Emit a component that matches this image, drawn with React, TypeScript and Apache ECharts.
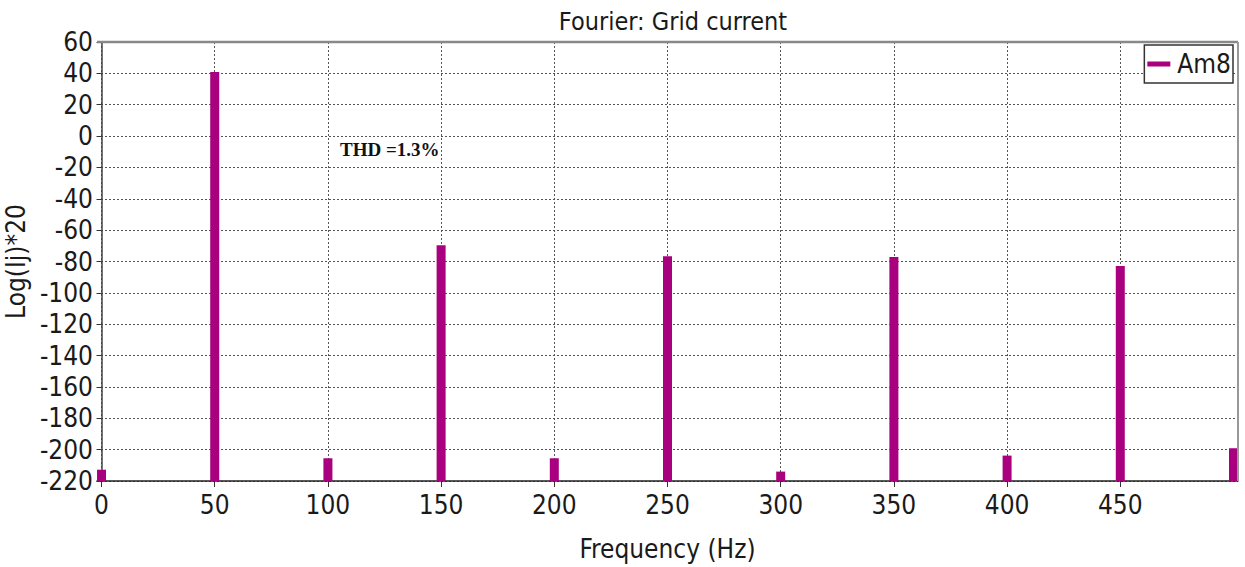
import React, { useEffect, useRef } from "react";
import * as echarts from "echarts";

// Harmonic spectrum of the grid current (dB-like scale: Log(Ij)*20)
const frequencies = [0, 50, 100, 150, 200, 250, 300, 350, 400, 450, 500];
const magnitudes = [-212.8, 40.8, -205.5, -69.7, -205.5, -76.7, -214, -77.1, -203.8, -82.9, -199.1];
const xTickValues = [0, 50, 100, 150, 200, 250, 300, 350, 400, 450];
const seriesName = "Am8";
const thdText = "THD =1.3%";

const FONT = "'Liberation Sans Narrow', 'DejaVu Sans Condensed', 'Liberation Sans', sans-serif";
const BAR_COLOR = "#a8007f";
const Y_MIN = -220;
const Y_MAX = 60;

export default function App() {
  const ref = useRef<HTMLDivElement>(null);

  useEffect(() => {
    document.body.style.margin = "0";
    const chart = echarts.init(ref.current!, null, { renderer: "svg" });

    const data = frequencies.map((f, i) => [f, magnitudes[i]]);

    chart.setOption({
      animation: false,
      backgroundColor: "#ffffff",
      title: {
        text: "Fourier: Grid current",
        left: 668,
        textAlign: "center",
        top: 4,
        textStyle: { fontFamily: FONT, fontSize: 25, fontWeight: "normal", color: "#1a1a1a" },
      },
      legend: {
        data: [{ name: seriesName, icon: "rect" }],
        right: 12,
        top: 45,
        orient: "vertical",
        itemWidth: 23,
        itemHeight: 5,
        padding: [6, 2, 6, 3],
        borderColor: "#333",
        borderWidth: 1.5,
        backgroundColor: "#fff",
        textStyle: { fontFamily: FONT, fontSize: 26, color: "#1a1a1a", padding: [0, 0, 0, 2] },
      },
      grid: { left: 97, right: 7, top: 42, bottom: 86, containLabel: false, outerBoundsMode: "none" },
      xAxis: {
        type: "value",
        min: -2,
        max: 502,
        name: "Frequency (Hz)",
        nameLocation: "middle",
        nameGap: 55,
        nameTextStyle: { fontFamily: FONT, fontSize: 26, color: "#1a1a1a" },
        axisLine: { show: true, onZero: false, lineStyle: { color: "#222", width: 1.5 } },
        axisTick: { show: true, length: 6, inside: false, customValues: xTickValues, lineStyle: { color: "#333" } },
        axisLabel: {
          customValues: xTickValues,
          margin: 11,
          fontFamily: FONT,
          fontSize: 26,
          color: "#1a1a1a",
        },
        splitLine: { show: true, lineStyle: { color: "#555", type: [2, 2], width: 1 } },
      },
      yAxis: {
        type: "value",
        min: Y_MIN,
        max: Y_MAX,
        interval: 20,
        name: "Log(Ij)*20",
        nameLocation: "middle",
        nameGap: 60,
        nameRotate: 90,
        nameTextStyle: { fontFamily: FONT, fontSize: 26, color: "#1a1a1a" },
        axisLine: { show: true, lineStyle: { color: "#444", width: 1.5 } },
        axisTick: { show: true, length: 5, lineStyle: { color: "#333" } },
        axisLabel: { margin: 4, fontFamily: FONT, fontSize: 26, color: "#1a1a1a" },
        splitLine: { show: true, lineStyle: { color: "#555", type: [2, 2], width: 1 } },
      },
      graphic: [
        // plot frame: top and right borders
        { type: "line", shape: { x1: 97, y1: 42, x2: 1238, y2: 42 }, style: { stroke: "#888", lineWidth: 2.5 }, z: 10 },
        { type: "line", shape: { x1: 1238, y1: 42, x2: 1238, y2: 481 }, style: { stroke: "#999", lineWidth: 2 }, z: 10 },
        {
          type: "text",
          left: 340,
          top: 140,
          style: {
            text: thdText,
            fontFamily: "'Liberation Serif', 'Times New Roman', serif",
            fontWeight: "bold",
            fontSize: 19,
            fill: "#111",
          },
          z: 10,
        },
      ],
      series: [
        {
          name: seriesName,
          type: "custom",
          itemStyle: { color: BAR_COLOR },
          renderItem: (params: any, api: any) => {
            const x = api.value(0);
            const top = api.coord([x, api.value(1)]);
            const base = api.coord([x, Y_MIN]);
            const w = 9;
            return {
              type: "rect",
              shape: { x: top[0] - w / 2, y: top[1], width: w, height: base[1] - top[1] },
              style: { fill: BAR_COLOR },
            };
          },
          encode: { x: 0, y: 1 },
          data,
          z: 5,
        },
      ],
    });

    return () => chart.dispose();
  }, []);

  return <div ref={ref} style={{ width: 1245, height: 567 }} />;
}
